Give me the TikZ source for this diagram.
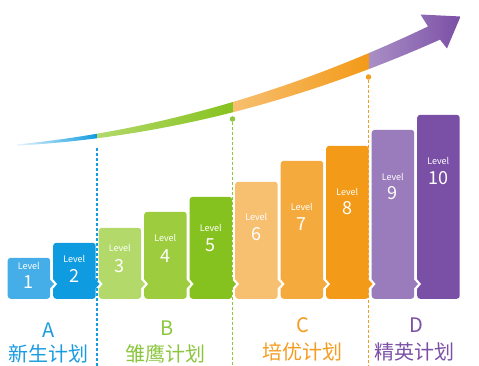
\documentclass[tikz,border=0pt]{standalone}
\usepackage{fontspec}
\newfontfamily\cjk{Noto Sans CJK SC}
\usetikzlibrary{shapes}

\definecolor{lv1}{HTML}{45AEE8}
\definecolor{lv2}{HTML}{0E9BE0}
\definecolor{lv3}{HTML}{B3D96A}
\definecolor{lv4}{HTML}{9DCC3E}
\definecolor{lv5}{HTML}{86C21F}
\definecolor{lv6}{HTML}{F7BF70}
\definecolor{lv7}{HTML}{F5AA3D}
\definecolor{lv8}{HTML}{F39A18}
\definecolor{lv9}{HTML}{9A7BBB}
\definecolor{lv10}{HTML}{7A4FA6}
\definecolor{colA}{HTML}{1A9BE0}
\definecolor{colB}{HTML}{8CC63F}
\definecolor{colC}{HTML}{F39C1F}
\definecolor{colD}{HTML}{7B4FA6}

\tikzstyle{bar} = [rectangle, rounded corners=3pt, inner sep=0pt, minimum width=42.5pt, anchor=south west]
\tikzstyle{lvtxt} = [text=white, font=\cjk\fontsize{9}{9}\selectfont, inner sep=0pt]
\tikzstyle{numtxt} = [text=white, font=\cjk\fontsize{18}{18}\selectfont, inner sep=0pt]
\tikzstyle{plan} = [font=\cjk\fontsize{20}{20}\selectfont, inner sep=0pt]
\tikzstyle{dashline} = [line width=1.2pt, dash pattern=on 3pt off 2pt]
\tikzstyle{dot} = [circle, inner sep=0pt, minimum size=5.5pt]

\begin{document}
\begin{tikzpicture}[x=1pt,y=-1pt,
  declare function={yc(\t)=145-(4.637*((\t-17)/100)^2+0.0754*(\t-17)); hw(\t)=0.6+0.021*(\t-17);}]
\useasboundingbox (0,0) rectangle (479,366);

% growth curve
\shade[left color=lv2!10, right color=lv2] plot[domain=17:97,samples=20] (\x,{yc(\x)-hw(\x)}) -- plot[domain=97:17,samples=20] (\x,{yc(\x)+hw(\x)}) -- cycle;
\shade[left color=lv3, right color=lv5] plot[domain=97:233,samples=20] (\x,{yc(\x)-hw(\x)}) -- plot[domain=233:97,samples=20] (\x,{yc(\x)+hw(\x)}) -- cycle;
\shade[left color=lv6, right color=lv8] plot[domain=233:369,samples=20] (\x,{yc(\x)-hw(\x)}) -- plot[domain=369:233,samples=20] (\x,{yc(\x)+hw(\x)}) -- cycle;
\shade[left color=lv9!85, right color=lv10] plot[domain=369:428,samples=12] (\x,{yc(\x)-hw(\x)}) -- (420.5,14.5) -- (460.5,16.5) -- (447,48.5) -- plot[domain=440:369,samples=12] (\x,{yc(\x)+hw(\x)}) -- cycle;

% dividers
\coordinate (btop) at (97,148);
\coordinate (bend) at (97,366);
\node[dot, fill=colB] (gdot) at (232.5,119) {};
\coordinate (gend) at (232.5,366);
\node[dot, fill=colC] (odot) at (368.5,77) {};
\coordinate (oend) at (368.5,366);
\draw[dashline, draw=colA] (btop) -- (bend);
\draw[dashline, draw=colB] (gdot) -- (gend);
\draw[dashline, draw=colC] (odot) -- (oend);

% levels
\node[bar, fill=lv1, minimum height=41pt] (bar1) at (7.5,299) {};
\node[bar, fill=lv2, minimum height=56pt] (bar2) at (53,299) {};
\node[bar, fill=lv3, minimum height=71pt] (bar3) at (98.5,299) {};
\node[bar, fill=lv4, minimum height=87pt] (bar4) at (144,299) {};
\node[bar, fill=lv5, minimum height=102pt] (bar5) at (189.5,299) {};
\node[bar, fill=lv6, minimum height=117pt] (bar6) at (235,299) {};
\node[bar, fill=lv7, minimum height=138pt] (bar7) at (280.5,299) {};
\node[bar, fill=lv8, minimum height=153pt] (bar8) at (326,299) {};
\node[bar, fill=lv9, minimum height=169pt] (bar9) at (371.5,299) {};
\node[bar, fill=lv10, minimum height=184pt] (bar10) at (417,299) {};

% notches
\fill[white] (52.8,279) -- (57,284) -- (52.8,289) -- cycle;
\fill[white] (98.3,279) -- (102.5,284) -- (98.3,289) -- cycle;
\fill[white] (143.8,279) -- (148,284) -- (143.8,289) -- cycle;
\fill[white] (189.3,279) -- (193.5,284) -- (189.3,289) -- cycle;
\fill[white] (234.8,279) -- (239,284) -- (234.8,289) -- cycle;
\fill[white] (280.3,279) -- (284.5,284) -- (280.3,289) -- cycle;
\fill[white] (325.8,279) -- (330,284) -- (325.8,289) -- cycle;
\fill[white] (371.3,279) -- (375.5,284) -- (371.3,289) -- cycle;
\fill[white] (416.8,279) -- (421,284) -- (416.8,289) -- cycle;

% tips
\fill[lv1] (49.5,279) -- (54,284) -- (49.5,289) -- cycle;
\fill[lv2] (95,279) -- (99.5,284) -- (95,289) -- cycle;
\fill[lv3] (140.5,279) -- (145,284) -- (140.5,289) -- cycle;
\fill[lv4] (186,279) -- (190.5,284) -- (186,289) -- cycle;
\fill[lv5] (231.5,279) -- (236,284) -- (231.5,289) -- cycle;
\fill[lv6] (277,279) -- (281.5,284) -- (277,289) -- cycle;
\fill[lv7] (322.5,279) -- (327,284) -- (322.5,289) -- cycle;
\fill[lv8] (368,279) -- (372.5,284) -- (368,289) -- cycle;
\fill[lv9] (413.5,279) -- (418,284) -- (413.5,289) -- cycle;

\node[lvtxt] (lvl1) at (28.75,266) {Level};
\node[numtxt] (num1) at (28.75,282) {1};
\node[lvtxt] (lvl2) at (74.25,259) {Level};
\node[numtxt] (num2) at (74.25,276) {2};
\node[lvtxt] (lvl3) at (119.75,248) {Level};
\node[numtxt] (num3) at (119.75,266) {3};
\node[lvtxt] (lvl4) at (165.25,238) {Level};
\node[numtxt] (num4) at (165.25,256) {4};
\node[lvtxt] (lvl5) at (210.75,228) {Level};
\node[numtxt] (num5) at (210.75,245) {5};
\node[lvtxt] (lvl6) at (256.25,217) {Level};
\node[numtxt] (num6) at (256.25,234) {6};
\node[lvtxt] (lvl7) at (301.75,207) {Level};
\node[numtxt] (num7) at (301.75,224) {7};
\node[lvtxt] (lvl8) at (347.25,192) {Level};
\node[numtxt] (num8) at (347.25,208) {8};
\node[lvtxt] (lvl9) at (392.75,177) {Level};
\node[numtxt] (num9) at (392.75,193) {9};
\node[lvtxt] (lvl10) at (438.25,161) {Level};
\node[numtxt] (num10) at (438.25,178) {10};

% plans
\node[plan, text=colA] (tagA) at (49,330) {A};
\node[plan, text=colA] (planA) at (49,354) {新生计划};
\node[plan, text=colB] (tagB) at (167,328) {B};
\node[plan, text=colB] (planB) at (165,354) {雏鹰计划};
\node[plan, text=colC] (tagC) at (303,325) {C};
\node[plan, text=colC] (planC) at (302,352) {培优计划};
\node[plan, text=colD] (tagD) at (416,325) {D};
\node[plan, text=colD] (planD) at (414,352) {精英计划};
\end{tikzpicture}
\end{document}
